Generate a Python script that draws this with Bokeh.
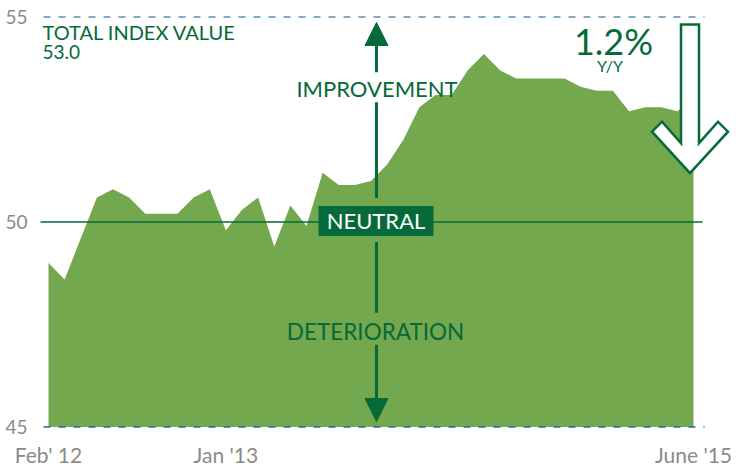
from bokeh.plotting import figure
from bokeh.models import Range1d, FixedTicker, Arrow, NormalHead, Label
from bokeh.embed import file_html
from bokeh.resources import INLINE

# ---- data ----
months = ["Feb 2012", "Mar 2012", "Apr 2012", "May 2012", "Jun 2012", "Jul 2012",
          "Aug 2012", "Sep 2012", "Oct 2012", "Nov 2012", "Dec 2012",
          "Jan 2013", "Feb 2013", "Mar 2013", "Apr 2013", "May 2013", "Jun 2013",
          "Jul 2013", "Aug 2013", "Sep 2013", "Oct 2013", "Nov 2013", "Dec 2013",
          "Jan 2014", "Feb 2014", "Mar 2014", "Apr 2014", "May 2014", "Jun 2014",
          "Jul 2014", "Aug 2014", "Sep 2014", "Oct 2014", "Nov 2014", "Dec 2014",
          "Jan 2015", "Feb 2015", "Mar 2015", "Apr 2015", "May 2015", "Jun 2015"]
index_values = [49.0, 48.6, 49.6, 50.6, 50.8, 50.6, 50.2, 50.2, 50.2, 50.6, 50.8,
                49.8, 50.3, 50.6, 49.4, 50.4, 49.9, 51.2, 50.9, 50.9, 51.0, 51.4, 52.0,
                52.8, 53.1, 53.1, 53.7, 54.1, 53.7, 53.5, 53.5, 53.5, 53.5, 53.3, 53.2,
                53.2, 52.7, 52.8, 52.8, 52.7, 53.0]
x_tick_index = [0, 11, 40]
x_tick_labels = ["Feb' 12", "Jan '13", "June '15"]
y_ticks = [45, 50, 55]
neutral_level = 50
y_floor = 45
y_ceiling = 55
total_label = "TOTAL INDEX VALUE"
total_value = "53.0"
yoy_change = "1.2%"
yoy_label = "Y/Y"

# ---- styling ----
FONT = "Lato"
AREA = "#74a84e"
DARK = "#056a39"
GRAY = "#8a8a8a"

# reference-pixel -> data helpers (annotation placement only)
def dx(px):
    return (px - 48) / 16.125

def dy(py):
    return 50 - (py - 222) / 41.1

xs = list(range(len(months)))

# frame: x 36..736, y 12..429 (reference pixels)
p = figure(width=738, height=469, output_backend="svg", toolbar_location=None,
           x_range=Range1d(dx(36), dx(736)), y_range=Range1d(dy(429), dy(12)),
           min_border_left=36, min_border_right=2, min_border_top=12, min_border_bottom=40)
p.outline_line_color = None
p.grid.visible = False
p.background_fill_color = "white"

# area
p.varea(x=xs, y1=[y_floor] * len(xs), y2=index_values, fill_color=AREA)

# reference lines
p.segment(x0=[dx(40)], y0=[neutral_level], x1=[dx(702)], y1=[neutral_level],
          line_color=DARK, line_width=1.6)
p.segment(x0=[dx(43)], y0=[y_ceiling], x1=[dx(704)], y1=[y_ceiling],
          line_color="#5b8db6", line_width=1.6, line_dash="7 8")
p.segment(x0=[dx(43)], y0=[y_floor], x1=[dx(704)], y1=[y_floor],
          line_color="#1d6db2", line_width=1.6, line_dash="7 8")

# improvement / deterioration arrows
ax = dx(376)
p.add_layout(Arrow(end=NormalHead(size=23, fill_color=DARK, line_color=DARK),
                   x_start=ax, y_start=dy(72), x_end=ax, y_end=dy(22),
                   line_color=DARK, line_width=3))
p.segment(x0=[ax], y0=[dy(102)], x1=[ax], y1=[dy(198)], line_color=DARK, line_width=3)
p.segment(x0=[ax], y0=[dy(242)], x1=[ax], y1=[dy(313)], line_color=DARK, line_width=3)
p.add_layout(Arrow(end=NormalHead(size=23, fill_color=DARK, line_color=DARK),
                   x_start=ax, y_start=dy(345), x_end=ax, y_end=dy(422),
                   line_color=DARK, line_width=3))

# neutral box
p.quad(left=[dx(318)], right=[dx(433)], top=[dy(206)], bottom=[dy(236)],
       fill_color=DARK, line_color=None)

def label(x, y, text, size, color=DARK, align="left"):
    p.add_layout(Label(x=x, y=y, text=text, text_font=FONT, text_font_size=f"{size}px",
                       text_color=color, text_align=align, text_baseline="middle"))

label(dx(375.5), dy(221), "NEUTRAL", 22, color="white", align="center")
label(dx(376.5), dy(88), "IMPROVEMENT", 22, align="center")
label(dx(375), dy(331.5), "DETERIORATION", 22.5, align="center")
label(dx(42), dy(32), total_label, 20)
label(dx(42), dy(52), total_value, 19)
label(dx(613), dy(40.5), yoy_change, 36, align="center")
label(dx(609.5), dy(65), yoy_label, 16, align="center")

# big outlined down arrow
arrow_px = [(680.5, 24), (698.5, 24), (698.5, 143), (717.5, 121.5), (727.5, 131.5),
            (689.5, 173), (651.5, 131.5), (661.5, 121.5), (680.5, 143)]
p.patch(x=[dx(a) for a, b in arrow_px], y=[dy(b) for a, b in arrow_px],
        fill_color="white", line_color=DARK, line_width=2.5, line_join="miter")

# axes
for ax_ in (p.xaxis[0], p.yaxis[0]):
    ax_.axis_line_color = None
    ax_.major_tick_line_color = None
    ax_.minor_tick_line_color = None
    ax_.major_tick_out = 0
    ax_.major_tick_in = 0
    ax_.minor_tick_out = 0
    ax_.major_label_text_font = FONT
    ax_.major_label_text_color = GRAY

p.xaxis.ticker = FixedTicker(ticks=x_tick_index)
p.xaxis.major_label_overrides = {i: t for i, t in zip(x_tick_index, x_tick_labels)}
p.xaxis.major_label_text_font_size = "21px"
p.xaxis.major_label_standoff = 13
p.yaxis.ticker = FixedTicker(ticks=y_ticks)
p.yaxis.major_label_text_font_size = "19px"
p.yaxis.major_label_standoff = 9

open("out.html", "w").write(file_html(p, INLINE))
